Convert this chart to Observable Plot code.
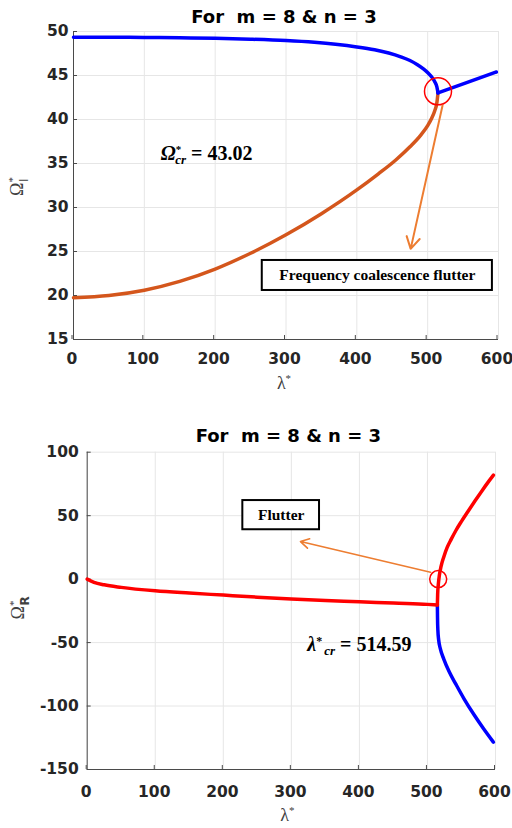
<!DOCTYPE html>
<html><head><meta charset="utf-8">
<script src="https://cdn.jsdelivr.net/npm/d3@7"></script>
<script src="https://cdn.jsdelivr.net/npm/@observablehq/plot@0.6"></script>
<style>
body{margin:0;background:#fff;}
#c{width:512px;height:828px;overflow:hidden;}
#c svg{display:block;}
svg text{white-space:pre;}
</style>
</head><body><div id="c"></div>
<script>
// ---------- shared ticks ----------
const X_TICKS = [0, 100, 200, 300, 400, 500, 600];
const Y_TICKS_I = [15, 20, 25, 30, 35, 40, 45, 50];
const Y_TICKS_R = [-150, -100, -50, 0, 50, 100];
const TITLE = "For  m = 8 & n = 3";

// ---------- top chart: imaginary part Ω*_I ----------
const lamUpper = [0, 50, 100, 150, 200, 250, 300, 340, 370, 400, 425, 445, 462, 475, 485, 494, 501, 506, 510, 513, 514.59];
const omUpper  = [49.36, 49.35, 49.32, 49.28, 49.22, 49.12, 48.97, 48.77, 48.55, 48.25, 47.92, 47.55, 47.12, 46.7, 46.25, 45.75, 45.25, 44.8, 44.3, 43.7, 43.02];
const lamLower = [0, 50, 100, 150, 200, 250, 300, 350, 400, 430, 455, 475, 490, 500, 506, 510, 513, 514.59];
const omLower  = [19.74, 20.0, 20.6, 21.6, 23.0, 24.8, 26.9, 29.3, 32.0, 33.8, 35.4, 36.9, 38.2, 39.3, 40.2, 41.0, 41.9, 43.02];
const lamFlutI = [514.59, 555, 597];
const omFlutI  = [43.02, 44.2, 45.4];

// ---------- bottom chart: real part Ω*_R ----------
const lamDamp = [0, 10, 25, 50, 100, 150, 200, 250, 300, 350, 400, 450, 500, 514.59];
const omDamp  = [0, -2.5, -4.5, -6.5, -9.2, -11.0, -12.6, -14.2, -15.6, -16.8, -17.8, -18.9, -19.9, -20.3];
const lamPos  = [514.59, 515, 516, 517.5, 520, 524, 529, 535, 542, 550, 560, 570, 580, 590, 597];
const omPos   = [-20.3, -12, -4, 3, 10, 17.5, 25, 31.5, 38.5, 45.5, 53.7, 61.7, 69.5, 77, 82];
const lamNeg  = [514.59, 514.8, 515.3, 516.5, 519, 524, 532, 542, 554, 568, 582, 597];
const omNeg   = [-20.3, -30, -40, -48, -55, -63, -73, -83, -94.5, -106.5, -117.5, -128.5];

// ---------- annotations ----------
const noteI = {x: 188, y: 36.1, label: "Ω*cr = 43.02"};
const circleI = {x: 514.59, y: 43.2};
const arrowI = {x1: 521, y1: 41.6, x2: 476, y2: 25.3};
const boxI = {x1: 266.5, x2: 591.4, y1: 20.57, y2: 23.98, label: "Frequency coalescence flutter"};
const noteR = {x: 400, y: -51.5, label: "λ*cr = 514.59"};
const circleR = {x: 515.8, y: 0};
const arrowR = {x1: 504.5, y1: 5.4, x2: 313.4, y2: 29.6};
const boxR = {x1: 228.7, x2: 341.4, y1: 38.9, y2: 61.9, label: "Flutter"};

const pts = (xs, ys) => xs.map((x, i) => ({x, y: ys[i]}));

const GRID = "#e6e6e6", AXIS = "#4a4a4a", INK = "#262626";
const TICKFONT = {fontFamily: "DejaVu Sans", fontWeight: "bold", fontSize: 15.5, fill: INK, tickFormat: d => String(d)};

function rich(svg, match, parts) {
  svg.querySelectorAll("text").forEach(t => {
    if (t.textContent !== match) return;
    t.textContent = "";
    for (const p of parts) {
      const s = document.createElementNS("http://www.w3.org/2000/svg", "tspan");
      s.textContent = p.t;
      for (const [k, v] of Object.entries(p)) if (k !== "t") s.setAttribute(k, v);
      t.appendChild(s);
    }
  });
}

const NOTEFONT = {fontFamily: "Liberation Serif", fontWeight: "bold", fontSize: 20, fill: "black", letterSpacing: 1.1};

// ---------------- TOP ----------------
const chartI = Plot.plot({
  width: 512, height: 405,
  marginTop: 31, marginBottom: 66, marginLeft: 73, marginRight: 14,
  x: {domain: [0, 600]}, y: {domain: [15, 50]},
  style: {background: "white", color: INK, overflow: "visible"},
  marks: [
    Plot.gridX(X_TICKS, {stroke: GRID, strokeOpacity: 1}),
    Plot.gridY(Y_TICKS_I, {stroke: GRID, strokeOpacity: 1}),
    Plot.ruleX([0], {stroke: AXIS}),
    Plot.ruleY([15], {stroke: AXIS}),
    Plot.axisX(X_TICKS, {tickSize: -4, tickPadding: 17, dx: -1.5, stroke: AXIS, ...TICKFONT, label: null}),
    Plot.axisY(Y_TICKS_I, {tickSize: -4, tickPadding: 9, stroke: AXIS, ...TICKFONT, label: null}),
    Plot.line(pts(lamLower, omLower), {x: "x", y: "y", stroke: "#d4561c", strokeWidth: 3.5, curve: "monotone-x"}),
    Plot.line(pts(lamUpper, omUpper), {x: "x", y: "y", stroke: "#0000ff", strokeWidth: 3.5, curve: "monotone-x"}),
    Plot.line(pts(lamFlutI, omFlutI), {x: "x", y: "y", stroke: "#0000ff", strokeWidth: 3.5, curve: "monotone-x"}),
    Plot.dot([circleI], {x: "x", y: "y", r: 13.5, stroke: "#ff0000", strokeWidth: 1.5, fill: "none"}),
    Plot.arrow([arrowI], {x1: "x1", y1: "y1", x2: "x2", y2: "y2", stroke: "#ed7d31", strokeWidth: 2, headLength: 10}),
    Plot.rect([boxI], {x1: "x1", x2: "x2", y1: "y1", y2: "y2", fill: "white", stroke: "black", strokeWidth: 2}),
    Plot.text([boxI], {x: d => (d.x1 + d.x2) / 2, y: d => (d.y1 + d.y2) / 2, text: "label", fontFamily: "Liberation Serif", fontWeight: "bold", fontSize: 15.5, fill: "black"}),
    Plot.text([noteI], {x: "x", y: "y", text: "label", ...NOTEFONT}),
    Plot.text([TITLE], {frameAnchor: "top", lineAnchor: "middle", dy: -14, dx: -2, fontFamily: "DejaVu Sans", fontWeight: "bold", fontSize: 18, fill: "black"}),
    Plot.text(["λ*"], {frameAnchor: "bottom", lineAnchor: "middle", dy: 44, dx: -2, fontFamily: "Liberation Serif", fontSize: 18, fill: "#404040"}),
    Plot.text(["Ω*I"], {frameAnchor: "left", textAnchor: "middle", lineAnchor: "middle", dx: -56, dy: 1, rotate: -90, fontFamily: "Liberation Serif", fontSize: 18, fill: "#404040"})
  ]
});

// ---------------- BOTTOM ----------------
const chartR = Plot.plot({
  width: 512, height: 423,
  marginTop: 46.7, marginBottom: 59, marginLeft: 86.7, marginRight: 17,
  x: {domain: [0, 600]}, y: {domain: [-150, 100]},
  style: {background: "white", color: INK, overflow: "visible"},
  marks: [
    Plot.gridX(X_TICKS, {stroke: GRID, strokeOpacity: 1}),
    Plot.gridY(Y_TICKS_R, {stroke: GRID, strokeOpacity: 1}),
    Plot.ruleX([0], {stroke: AXIS}),
    Plot.ruleY([-150], {stroke: AXIS}),
    Plot.axisX(X_TICKS, {tickSize: -4, tickPadding: 20, dx: -1, stroke: AXIS, ...TICKFONT, label: null}),
    Plot.axisY(Y_TICKS_R, {tickSize: -4, tickPadding: 12.5, stroke: AXIS, ...TICKFONT, label: null}),
    Plot.line(pts(lamNeg, omNeg), {x: "x", y: "y", stroke: "#0000ff", strokeWidth: 3.5, curve: "monotone-x"}),
    Plot.line(pts(lamDamp, omDamp), {x: "x", y: "y", stroke: "#ff0000", strokeWidth: 3.5, curve: "monotone-x"}),
    Plot.line(pts(lamPos, omPos), {x: "x", y: "y", stroke: "#ff0000", strokeWidth: 3.5, curve: "monotone-x"}),
    Plot.dot([circleR], {x: "x", y: "y", r: 8.5, stroke: "#ff0000", strokeWidth: 1.5, fill: "none"}),
    Plot.arrow([arrowR], {x1: "x1", y1: "y1", x2: "x2", y2: "y2", stroke: "#ed7d31", strokeWidth: 1.6, headLength: 9}),
    Plot.rect([boxR], {x1: "x1", x2: "x2", y1: "y1", y2: "y2", fill: "white", stroke: "black", strokeWidth: 2}),
    Plot.text([boxR], {x: d => (d.x1 + d.x2) / 2, y: d => (d.y1 + d.y2) / 2, text: "label", fontFamily: "Liberation Serif", fontWeight: "bold", fontSize: 15.5, fill: "black"}),
    Plot.text([noteR], {x: "x", y: "y", text: "label", ...NOTEFONT}),
    Plot.text([TITLE], {frameAnchor: "top", lineAnchor: "middle", dy: -15.7, dx: -3, fontFamily: "DejaVu Sans", fontWeight: "bold", fontSize: 18, fill: "black"}),
    Plot.text(["λ*"], {frameAnchor: "bottom", lineAnchor: "middle", dy: 46, dx: -4, fontFamily: "Liberation Serif", fontSize: 18, fill: "#404040"}),
    Plot.text(["Ω*R"], {frameAnchor: "left", textAnchor: "middle", lineAnchor: "middle", dx: -69, dy: -3, rotate: -90, fontFamily: "Liberation Serif", fontSize: 18, fill: "#404040"})
  ]
});

for (const svg of [chartI, chartR]) {
  rich(svg, "Ω*cr = 43.02", [
    {t: "Ω", "font-style": "italic"},
    {t: "*", "font-size": 11, dy: -7},
    {t: "cr", "font-size": 13, "font-style": "italic", dx: -6, dy: 11},
    {t: " = 43.02", dy: -4}
  ]);
  rich(svg, "λ*cr = 514.59", [
    {t: "λ", "font-style": "italic"},
    {t: "*", "font-size": 12, dy: -6},
    {t: "cr", "font-size": 13, "font-style": "italic", dx: 2, dy: 10},
    {t: " = 514.59", dy: -4}
  ]);
  rich(svg, "λ*", [
    {t: "λ"},
    {t: "*", "font-size": 11, dy: -7}
  ]);
  rich(svg, "Ω*I", [
    {t: "Ω"},
    {t: "*", "font-size": 11, dy: -7},
    {t: "I", "font-size": 12, "font-family": "DejaVu Sans", dx: -5, dy: 12}
  ]);
  rich(svg, "Ω*R", [
    {t: "Ω"},
    {t: "*", "font-size": 11, dy: -7},
    {t: "R", "font-size": 12, "font-weight": "bold", "font-family": "DejaVu Sans", dx: -5, dy: 12}
  ]);
}

document.getElementById("c").append(chartI, chartR);
</script>
</body></html>
